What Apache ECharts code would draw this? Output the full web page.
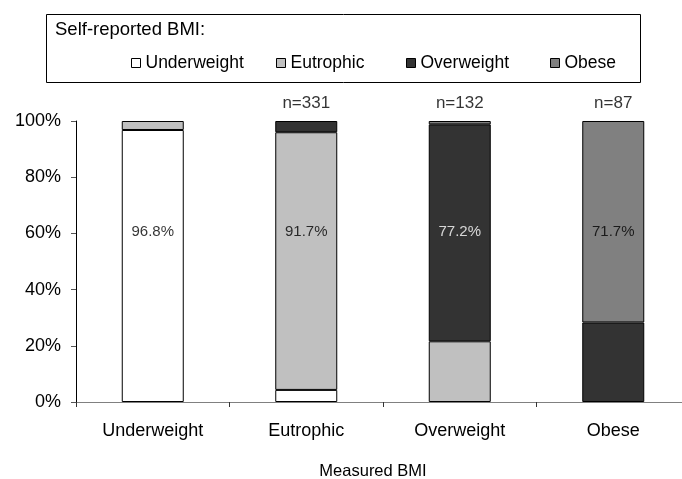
<!DOCTYPE html>
<html>
<head>
<meta charset="utf-8">
<script src="https://cdn.jsdelivr.net/npm/echarts@6/dist/echarts.min.js"></script>
<style>html,body{margin:0;padding:0;background:#fff;overflow:hidden}#c{width:720px;height:479px}</style>
</head>
<body>
<div id="c"></div>
<script>
// Data
const categories = ['Underweight', 'Eutrophic', 'Overweight', 'Obese'];
const seriesNames = ['Underweight', 'Eutrophic', 'Overweight', 'Obese'];
const underweight = [96.8, 4.3, 0, 0];
const eutrophic = [3.2, 91.7, 21.6, 0];
const overweight = [0, 4.0, 77.2, 28.3];
const obese = [0, 0, 1.2, 71.7];
const nLabels = ['', 'n=331', 'n=132', 'n=87'];
const yTicks = [0, 20, 40, 60, 80, 100];

const FONT = '"Liberation Sans", Arial, sans-serif';
const colors = ['#ffffff', '#c0c0c0', '#333333', '#808080'];
const labelColors = ['#000', '#000', '#fff', '#000'];
const legendLefts = [131, 276, 406, 550];
const LABEL_Y = 60.5;
const allSeries = [underweight, eutrophic, overweight, obese];
const diag = categories.map((c, i) => allSeries[i][i]);

const chart = echarts.init(document.getElementById('c'), null, {renderer: 'canvas'});
const series = allSeries.map((d, k) => ({
  name: seriesNames[k],
  type: 'bar',
  stack: 'a',
  barWidth: 62,
  data: d.map(v => (v === 0 ? '-' : v)),
  itemStyle: {color: colors[k], borderColor: '#000', borderWidth: 1},
  emphasis: {disabled: true},
  animation: false
}));
series.push({
  type: 'scatter',
  symbolSize: 0,
  silent: true,
  animation: false,
  data: categories.map((c, i) => ({
    value: [i, LABEL_Y],
    label: {color: labelColors[i]}
  })),
  label: {
    show: true, position: 'inside', fontFamily: FONT, fontSize: 15, color: '#000',
    formatter: p => diag[p.dataIndex].toFixed(1) + '%'
  }
});
series.push({
  type: 'scatter',
  symbolSize: 0,
  silent: true,
  animation: false,
  data: categories.map((c, i) => [i, yTicks[yTicks.length - 1]]),
  label: {
    show: true, position: 'top', distance: 9, fontFamily: FONT, fontSize: 17, color: '#000',
    formatter: p => nLabels[p.dataIndex]
  }
});

chart.setOption({
  animation: false,
  backgroundColor: '#fff',
  grid: {left: 76, top: 121, width: 614, height: 281, containLabel: false},
  legend: seriesNames.map((n, k) => ({
    data: [n],
    left: legendLefts[k], top: 54, padding: 0,
    icon: 'rect', itemWidth: 9, itemHeight: 9, itemGap: 0,
    textStyle: {fontFamily: FONT, fontSize: 17.5, color: '#000', padding: [0, 0, 0, 0]},
    itemStyle: {borderColor: '#000', borderWidth: 1},
    selectedMode: false
  })),
  graphic: [
    {type: 'rect', shape: {x: 46.5, y: 14.5, width: 594, height: 68}, style: {fill: 'none', stroke: '#000', lineWidth: 1}, silent: true},
    {type: 'text', left: 55, top: 20, style: {text: 'Self-reported BMI:', font: '18.5px ' + FONT, fill: '#000'}, silent: true},
    {type: 'text', x: 373, y: 471, style: {text: 'Measured BMI', font: '16.5px ' + FONT, fill: '#000', align: 'center', verticalAlign: 'middle'}, silent: true}
  ],
  xAxis: {
    type: 'category', data: categories,
    axisLine: {lineStyle: {color: '#808080', width: 1}},
    axisTick: {show: true, length: 5, lineStyle: {color: '#333'}},
    axisLabel: {fontFamily: FONT, fontSize: 18, color: '#000', margin: 20}
  },
  yAxis: {
    type: 'value', min: 0, max: 100, interval: 20,
    axisLine: {show: true, lineStyle: {color: '#000', width: 1}},
    axisTick: {show: true, length: 5, lineStyle: {color: '#555'}},
    splitLine: {show: false},
    axisLabel: {fontFamily: FONT, fontSize: 18, color: '#000', margin: 15, formatter: '{value}%'}
  },
  series: series
});
</script>
</body>
</html>
